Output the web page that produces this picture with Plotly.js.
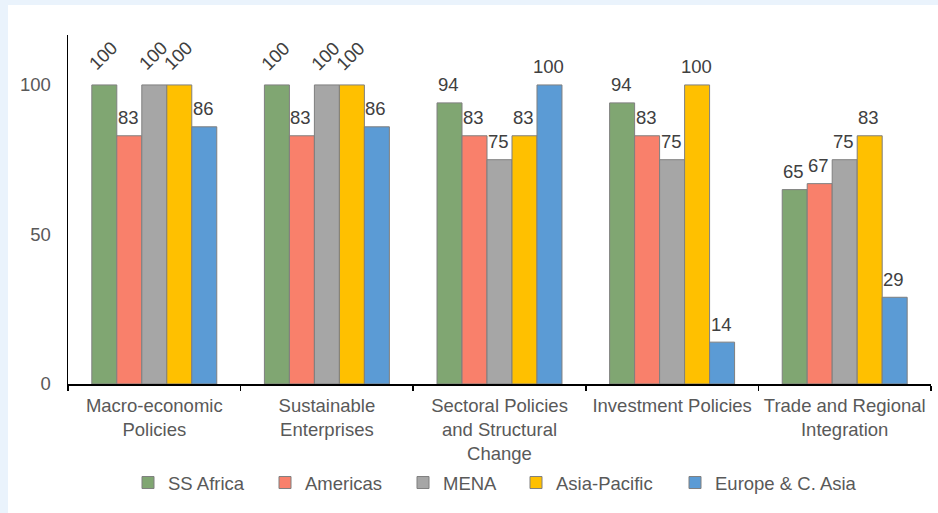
<!DOCTYPE html>
<html>
<head>
<meta charset="utf-8">
<script src="https://cdn.plot.ly/plotly-3.0.1.min.js"></script>
<style>
  html, body { margin: 0; padding: 0; background: #EAF3FC; width: 938px; height: 513px; overflow: hidden; }
  #chart { position: absolute; left: 8px; top: 5px; width: 930px; height: 508px; background: #fff; }
</style>
</head>
<body>
<div id="chart"></div>
<script>
// Policy areas on the x axis
const categories = [
  'Macro-economic<br>Policies',
  'Sustainable<br>Enterprises',
  'Sectoral Policies<br>and Structural<br>Change',
  'Investment Policies',
  'Trade and Regional<br>Integration'
];

// Regions (series)
const seriesNames = ['SS Africa', 'Americas', 'MENA', 'Asia-Pacific', 'Europe & C. Asia'];

// Scores per region, one value per policy area
const ssAfrica    = [100, 100, 94, 94, 65];
const americas    = [83, 83, 83, 83, 67];
const mena        = [100, 100, 75, 75, 75];
const asiaPacific = [100, 100, 83, 100, 83];
const europeAsia  = [86, 86, 100, 14, 29];

const yTicks = [0, 50, 100];

const seriesValues = [ssAfrica, americas, mena, asiaPacific, europeAsia];
const seriesColors = ['#80A672', '#F9806B', '#A6A6A6', '#FFC000', '#5B9BD5'];

// Labels that are tilted to keep them apart: [series, category]
const tiltedLabels = [[0, 0], [2, 0], [3, 0], [0, 1], [2, 1], [3, 1]];

const W = 930, H = 508;
const margin = { l: 60, r: 7, t: 30, b: 129 };
const bargap = 0.276;
const barPx = (W - margin.l - margin.r) / categories.length * (1 - bargap) / seriesNames.length;

const fontFamily = 'Liberation Sans, Arial, sans-serif';
const tickColor = '#595959';
const labelColor = '#404040';

// Legend text start positions (inside the chart div), one legend per region
const legendTextX = [160, 297, 435, 548, 707];

const traces = seriesNames.map((name, i) => ({
  type: 'bar',
  name: name,
  x: categories,
  y: seriesValues[i],
  marker: { color: seriesColors[i], line: { color: '#7F7F7F', width: 1 } },
  legend: i === 0 ? 'legend' : 'legend' + (i + 1),
  showlegend: true,
  hoverinfo: 'x+y+name'
}));

const annotations = [];
seriesValues.forEach((vals, i) => {
  vals.forEach((v, j) => {
    const tilted = tiltedLabels.some(p => p[0] === i && p[1] === j);
    annotations.push({
      x: categories[j],
      y: v,
      xref: 'x',
      yref: 'y',
      text: String(v),
      showarrow: false,
      xanchor: 'center',
      yanchor: 'middle',
      xshift: (i - 2) * barPx - 1,
      yshift: tilted ? 29 : 18,
      textangle: tilted ? -45 : 0,
      font: { family: fontFamily, size: 18.5, color: labelColor }
    });
  });
});

const layout = {
  width: W,
  height: H,
  margin: margin,
  showlegend: true,
  paper_bgcolor: '#ffffff',
  plot_bgcolor: '#ffffff',
  barmode: 'group',
  bargap: bargap,
  bargroupgap: 0,
  font: { family: fontFamily, size: 18.5, color: tickColor },
  xaxis: {
    type: 'category',
    showline: true,
    linecolor: '#000000',
    linewidth: 2,
    ticks: 'outside',
    tickson: 'boundaries',
    ticklen: 5,
    tickwidth: 1.5,
    tickcolor: '#000000',
    showgrid: false,
    zeroline: false,
    tickfont: { family: fontFamily, size: 18.5, color: tickColor },
    ticklabelstandoff: 4,
    fixedrange: true
  },
  yaxis: {
    range: [0, 116.7],
    tickvals: yTicks,
    ticktext: yTicks.map(String),
    showline: true,
    linecolor: '#000000',
    linewidth: 1.5,
    ticks: '',
    showgrid: false,
    zeroline: false,
    tickfont: { family: fontFamily, size: 18.5, color: tickColor },
    ticklabelstandoff: 12,
    fixedrange: true
  },
  annotations: annotations
};

// One small legend per region so each entry sits at its own spot
seriesNames.forEach((name, i) => {
  const key = i === 0 ? 'legend' : 'legend' + (i + 1);
  layout[key] = {
    orientation: 'h',
    xref: 'container',
    yref: 'container',
    x: (legendTextX[i] - 40) / W,
    y: 1 - 478 / H,
    xanchor: 'left',
    yanchor: 'middle',
    bgcolor: 'rgba(0,0,0,0)',
    borderwidth: 0,
    itemclick: false,
    itemdoubleclick: false,
    font: { family: fontFamily, size: 18.5, color: tickColor }
  };
});

Plotly.newPlot('chart', traces, layout, { displayModeBar: false, staticPlot: true });
</script>
</body>
</html>
